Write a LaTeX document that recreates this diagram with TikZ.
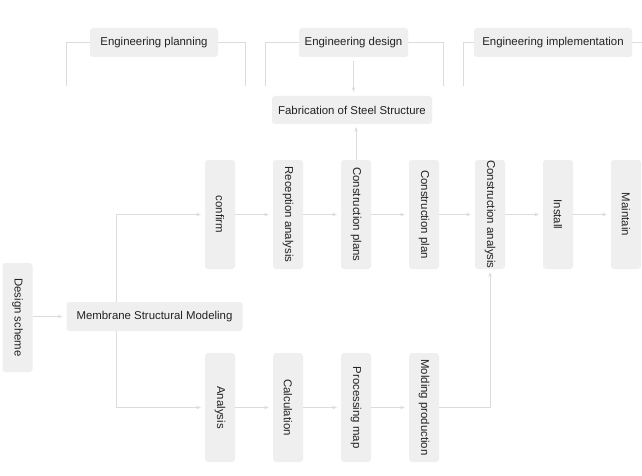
\documentclass[tikz,border=0pt]{standalone}
\usepackage{fontspec}
\setmainfont{Liberation Sans}
\usetikzlibrary{arrows.meta}
\definecolor{boxfill}{HTML}{EFEFEF}
\definecolor{linecol}{HTML}{DCDCDC}
\definecolor{txt}{HTML}{222222}
\begin{document}
\begin{tikzpicture}[x=1pt,y=-1pt,
  box/.style={fill=boxfill,rounded corners=3pt,inner sep=0pt,text=txt,font=\fontsize{11.4}{13}\selectfont},
  hbox/.style={box,minimum height=29pt},
  vbox/.style={box,rotate=-90,minimum width=109pt,minimum height=30pt},
  conn/.style={draw=linecol,line width=0.8pt},
  arr/.style={conn,-{Stealth[length=4.5pt,width=3.5pt]},shorten >=4pt}]
\useasboundingbox (0,0) rectangle (642,476);
\fill[white] (0,0) rectangle (642,476);

% phase headers
\node[hbox,minimum width=128pt] (ep) at (154,42.5) {Engineering planning};
\node[hbox,minimum width=109pt] (ed) at (353.5,42.5) {Engineering design};
\node[hbox,minimum width=158pt] (ei) at (553,42.5) {Engineering implementation};

\coordinate (b1) at (66,86);
\coordinate (b2) at (245,86);
\coordinate (b3) at (265,86);
\coordinate (b4) at (443,86);
\coordinate (b5) at (463,86);
\coordinate (b6) at (642,42.5);
\draw[conn] (b1) |- (ep.west);
\draw[conn] (ep.east) -| (b2);
\draw[conn] (b3) |- (ed.west);
\draw[conn] (ed.east) -| (b4);
\draw[conn] (b5) |- (ei.west);
\draw[conn] (ei.east) -- (b6);

\node[hbox,minimum width=160pt,minimum height=28pt] (fab) at (352,110) {Fabrication of Steel Structure};

% left side
\node[vbox] (ds) at (17.5,317.5) {Design scheme};
\node[hbox,minimum width=176pt] (msm) at (154.5,316.5) {Membrane Structural Modeling};

% top row
\node[vbox] (cf) at (220,214.5) {confirm};
\node[vbox] (ra) at (288,214.5) {Reception analysis};
\node[vbox] (cps) at (356,214.5) {Construction plans};
\node[vbox] (cp) at (424,214.5) {Construction plan};
\node[vbox] (ca) at (490,214.5) {Construction analysis};
\node[vbox] (in) at (558,214.5) {Install};
\node[vbox] (mt) at (626,214.5) {Maintain};

% bottom row
\node[vbox] (an) at (220,407.5) {Analysis};
\node[vbox] (cl) at (288,407.5) {Calculation};
\node[vbox] (pm) at (356,407.5) {Processing map};
\node[vbox] (mp) at (424,407.5) {Molding production};

\coordinate (j) at (116,300);

% connectors
\draw[arr,shorten <=4pt] (ed.south) -- (ed.south |- fab.north);
\draw[arr,shorten >=3pt] (cps.west) -- (cps.west |- fab.south);
\draw[arr] (ds.north |- msm.west) -- (msm.west);
\draw[arr] (msm.north -| j) |- (cf);
\draw[arr] (msm.south -| j) |- (an);
\draw[arr] (cf) -- (ra);
\draw[arr] (ra) -- (cps);
\draw[arr] (cps) -- (cp);
\draw[arr] (cp) -- (ca);
\draw[arr] (ca) -- (in);
\draw[arr] (in) -- (mt);
\draw[arr] (an) -- (cl);
\draw[arr] (cl) -- (pm);
\draw[arr] (pm) -- (mp);
\draw[arr,shorten >=3pt] (mp) -| (ca);
\end{tikzpicture}
\end{document}
